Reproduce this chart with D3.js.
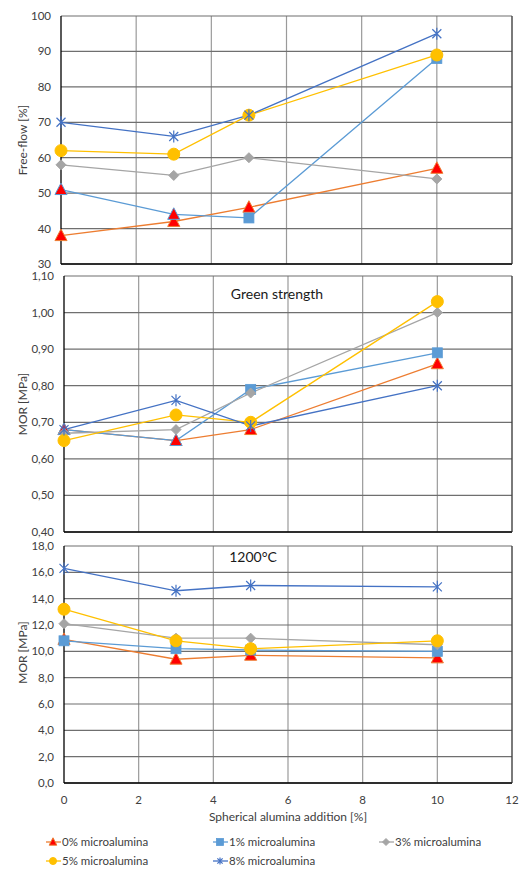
<!DOCTYPE html>
<html>
<head>
<meta charset="utf-8">
<script src="https://cdn.jsdelivr.net/npm/d3@7"></script>
<style>
  body { margin: 0; background: #fff; }
  text { font-family: Lato, 'Open Sans', sans-serif; fill: #404040; }
</style>
</head>
<body>
<div id="chart"></div>
<script>
// x positions (spherical alumina addition, %)
const xValues = [0, 3, 5, 10]
const xTicks = [0, 2, 4, 6, 8, 10, 12]

const seriesNames = ['0% microalumina', '1% microalumina', '3% microalumina', '5% microalumina', '8% microalumina']

// Free-flow [%]
const freeFlow0 = [38, 42, 46, 57]
const freeFlow1 = [51, 44, 43, 88]
const freeFlow3 = [58, 55, 60, 54]
const freeFlow5 = [62, 61, 72, 89]
const freeFlow8 = [70, 66, 72, 95]

// Green strength MOR [MPa]
const green0 = [0.68, 0.65, 0.68, 0.86]
const green1 = [0.68, 0.65, 0.79, 0.89]
const green3 = [0.67, 0.68, 0.78, 1.00]
const green5 = [0.65, 0.72, 0.70, 1.03]
const green8 = [0.68, 0.76, 0.69, 0.80]

// 1200°C MOR [MPa]
const hot0 = [10.9, 9.4, 9.7, 9.5]
const hot1 = [10.8, 10.2, 10.1, 10.0]
const hot3 = [12.1, 11.0, 11.0, 10.5]
const hot5 = [13.2, 10.8, 10.2, 10.8]
const hot8 = [16.3, 14.6, 15.0, 14.9]

const yTicksFree = [30, 40, 50, 60, 70, 80, 90, 100]
const yTicksGreen = [0.4, 0.5, 0.6, 0.7, 0.8, 0.9, 1.0, 1.1]
const yTicksHot = [0, 2, 4, 6, 8, 10, 12, 14, 16, 18]

const STYLES = [
  { line: '#ED7D31', fill: '#FF0000', stroke: '#ED7D31', shape: 'triangle' },
  { line: '#5B9BD5', fill: '#5B9BD5', stroke: '#5B9BD5', shape: 'square' },
  { line: '#A5A5A5', fill: '#A5A5A5', stroke: '#A5A5A5', shape: 'diamond' },
  { line: '#FFC000', fill: '#FFC000', stroke: '#FFC000', shape: 'circle' },
  { line: '#4472C4', fill: 'none', stroke: '#4472C4', shape: 'star' }
]

const PANELS = [
  {
    left: 61, right: 512, top: 16, bottom: 264,
    series: [freeFlow0, freeFlow1, freeFlow3, freeFlow5, freeFlow8],
    ticks: yTicksFree, fmt: d => d3.format('d')(d),
    yLabel: 'Free-flow [%]', title: null, xLabels: false,
    // the 1% series shows triangle markers at its first two points
    triangleOverride: [0, 1]
  },
  {
    left: 64, right: 512, top: 276, bottom: 532,
    series: [green0, green1, green3, green5, green8],
    ticks: yTicksGreen, fmt: d => d3.format('.2f')(d).replace('.', ','),
    yLabel: 'MOR [MPa]', title: 'Green strength', titleX: 277, titleY: 294, xLabels: false,
    triangleOverride: [0, 1]
  },
  {
    left: 64, right: 512, top: 546, bottom: 783,
    series: [hot0, hot1, hot3, hot5, hot8],
    ticks: yTicksHot, fmt: d => d3.format('.1f')(d).replace('.', ','),
    yLabel: 'MOR [MPa]', title: '1200°C', titleX: 253, titleY: 557, xLabels: true,
    triangleOverride: []
  }
]

const svg = d3.select('#chart').append('svg')
  .attr('width', 523)
  .attr('height', 869)

function drawMarker (g, shape, x, y, size, fill, stroke) {
  const s = size
  if (shape === 'triangle') {
    g.append('path')
      .attr('d', `M${x},${y - s * 0.6}L${x + s * 0.55},${y + s * 0.45}L${x - s * 0.55},${y + s * 0.45}Z`)
      .attr('fill', fill).attr('stroke', stroke).attr('stroke-width', 1)
  } else if (shape === 'square') {
    g.append('rect')
      .attr('x', x - s / 2).attr('y', y - s / 2).attr('width', s).attr('height', s)
      .attr('fill', fill).attr('stroke', stroke).attr('stroke-width', 0.8)
  } else if (shape === 'diamond') {
    const r = s * 0.5
    g.append('path')
      .attr('d', `M${x},${y - r}L${x + r},${y}L${x},${y + r}L${x - r},${y}Z`)
      .attr('fill', fill).attr('stroke', stroke)
  } else if (shape === 'circle') {
    g.append('circle')
      .attr('cx', x).attr('cy', y).attr('r', s / 2)
      .attr('fill', fill).attr('stroke', stroke)
  } else if (shape === 'star') {
    const r = s / 2
    const d = r * 0.75
    g.append('path')
      .attr('d', `M${x - d},${y - d}L${x + d},${y + d}M${x - d},${y + d}L${x + d},${y - d}M${x},${y - r}L${x},${y + r}`)
      .attr('fill', 'none').attr('stroke', stroke).attr('stroke-width', 1.2)
  }
}

PANELS.forEach(function (p) {
  const xScale = d3.scaleLinear().domain([0, 12]).range([p.left, p.right])
  const yScale = d3.scaleLinear().domain(d3.extent(p.ticks)).range([p.bottom, p.top])
  const g = svg.append('g')

  // vertical grid
  g.append('g')
    .selectAll('line')
    .data(xTicks.slice(1))
    .enter()
    .append('line')
    .attr('x1', d => xScale(d)).attr('x2', d => xScale(d))
    .attr('y1', p.top).attr('y2', p.bottom)
    .attr('stroke', '#9a9a9a').attr('stroke-width', 1.2)

  // horizontal grid
  g.append('g')
    .selectAll('line')
    .data(p.ticks)
    .enter()
    .append('line')
    .attr('x1', p.left).attr('x2', p.right)
    .attr('y1', d => yScale(d)).attr('y2', d => yScale(d))
    .attr('stroke', '#6f6f6f').attr('stroke-width', 1.2)

  // frame
  g.append('line')
    .attr('x1', p.left).attr('x2', p.left).attr('y1', p.top).attr('y2', p.bottom)
    .attr('stroke', '#000').attr('stroke-width', 1.3)
  g.append('line')
    .attr('x1', p.left).attr('x2', p.right).attr('y1', p.bottom).attr('y2', p.bottom)
    .attr('stroke', '#000').attr('stroke-width', 1.3)
  g.append('line')
    .attr('x1', p.right).attr('x2', p.right).attr('y1', p.top).attr('y2', p.bottom)
    .attr('stroke', '#333').attr('stroke-width', 1)

  // y tick labels
  g.append('g')
    .selectAll('text')
    .data(p.ticks)
    .enter()
    .append('text')
    .attr('x', p.left - 10)
    .attr('y', d => yScale(d))
    .attr('dy', '0.35em')
    .attr('text-anchor', 'end')
    .style('font-size', '11.5px')
    .text(p.fmt)

  // y label
  g.append('text')
    .attr('transform', `translate(27,${(p.top + p.bottom) / 2 - (p.xLabels ? 12 : 0)}) rotate(-90)`)
    .attr('text-anchor', 'middle')
    .style('font-size', '12px')
    .text(p.yLabel)

  if (p.title) {
    g.append('text')
      .attr('x', p.titleX).attr('y', p.titleY)
      .attr('dy', '0.35em')
      .attr('text-anchor', 'middle')
      .style('font-size', '14px')
      .style('fill', '#1a1a1a')
      .text(p.title)
  }

  if (p.xLabels) {
    g.append('g')
      .selectAll('text')
      .data(xTicks)
      .enter()
      .append('text')
      .attr('x', d => xScale(d))
      .attr('y', p.bottom + 21)
      .attr('text-anchor', 'middle')
      .style('font-size', '11.5px')
      .text(d => d)
    g.append('text')
      .attr('x', 288).attr('y', p.bottom + 38)
      .attr('text-anchor', 'middle')
      .style('font-size', '12px')
      .text('Spherical alumina addition [%]')
  }

  const line = d3.line()
    .x((d, i) => xScale(xValues[i]))
    .y(d => yScale(d))

  p.series.forEach(function (vals, si) {
    g.append('path')
      .datum(vals)
      .attr('d', line)
      .attr('fill', 'none')
      .attr('stroke', STYLES[si].line)
      .attr('stroke-width', 1.3)
  })

  p.series.forEach(function (vals, si) {
    const st = STYLES[si]
    const mg = g.append('g')
    vals.forEach(function (v, i) {
      let shape = st.shape
      let fill = st.fill
      if (si === 1 && p.triangleOverride.indexOf(i) >= 0) {
        shape = 'triangle'
        fill = '#FF0000'
      }
      const size = shape === 'circle' ? 12 : shape === 'triangle' ? 11 : shape === 'square' ? 10 : shape === 'star' ? 12 : 10
      drawMarker(mg, shape, xScale(xValues[i]), yScale(v), size, fill, st.stroke)
    })
  })
})

// legend
const legendPos = [[53, 842], [220, 842], [386, 842], [53, 861], [220, 861]]
seriesNames.forEach(function (name, i) {
  const st = STYLES[i]
  const [lx, ly] = legendPos[i]
  const lg = svg.append('g')
  lg.append('line')
    .attr('x1', lx - 7).attr('x2', lx + 8)
    .attr('y1', ly).attr('y2', ly)
    .attr('stroke', st.line).attr('stroke-width', 1.3)
  drawMarker(lg, st.shape, lx, ly, 7, st.fill, st.stroke)
  lg.append('text')
    .attr('x', lx + 9).attr('y', ly)
    .attr('dy', '0.35em')
    .style('font-size', '11.5px')
    .text(name)
})
</script>
</body>
</html>
